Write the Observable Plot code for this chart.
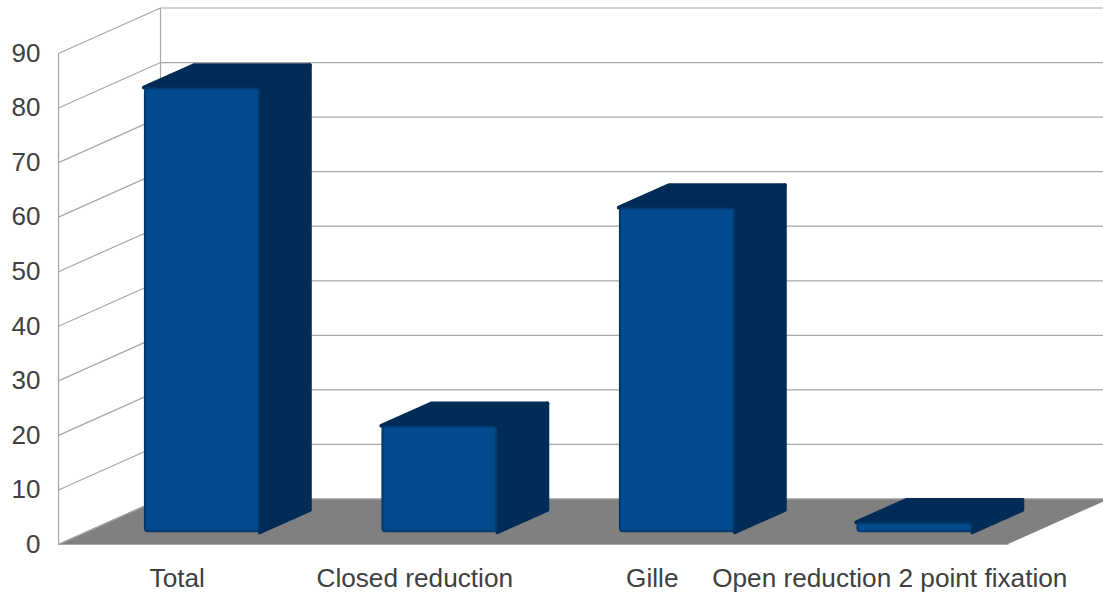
<!DOCTYPE html>
<html>
<head>
<meta charset="utf-8">
<script src="https://cdn.jsdelivr.net/npm/d3@7"></script>
<script src="https://cdn.jsdelivr.net/npm/@observablehq/plot@0.6"></script>
<style>
html,body{margin:0;padding:0;background:#fff;overflow:hidden}
svg{display:block}
</style>
</head>
<body>
<div id="chart"></div>
<script>
const categories = ["Total", "Closed reduction", "Gille", "Open reduction 2 point fixation"];
const values = [81.5, 19.5, 59.5, 1.8];
const yTicks = [0, 10, 20, 30, 40, 50, 60, 70, 80, 90];

// Oblique projection: one unit of depth moves a point this far in data units.
const depthX = 0.4295, depthY = 8.34;
const nearDepth = 0.26, farDepth = 0.75;
const barStart = 0.25, barWidth = 0.488;

const bars = categories.map((name, i) => {
  const x1 = i + barStart + nearDepth * depthX;
  const x2 = x1 + barWidth;
  const y1 = nearDepth * depthY;
  const y2 = y1 + values[i];
  const sx = (farDepth - nearDepth) * depthX;
  const sy = (farDepth - nearDepth) * depthY;
  return {name, x1, x2, y1, y2, sx, sy};
});
const topFaces = bars.flatMap(b => [
  {name: b.name, y: b.y2, x1: b.x1, x2: b.x2},
  {name: b.name, y: b.y2 + b.sy, x1: b.x1 + b.sx, x2: b.x2 + b.sx}
]);
const sideFaces = bars.flatMap(b => [
  {name: b.name, x: b.x2, y1: b.y1, y2: b.y2},
  {name: b.name, x: b.x2 + b.sx, y1: b.y1 + b.sy, y2: b.y2 + b.sy}
]);
const floor = [
  {y: 0, x1: 0, x2: 4},
  {y: depthY, x1: depthX, x2: 4 + depthX}
];
const gridColor = "#a6a6a6", sideColor = "#012c58", frontColor = "#004b8e", edgeColor = "#03396f";

const chart = Plot.plot({
  width: 1103, height: 593,
  marginLeft: 58, marginRight: 95, marginTop: 53, marginBottom: 49,
  style: {fontFamily: "'Liberation Sans', Arial, sans-serif", background: "#fff", color: "#404040"},
  x: {domain: [0, 4]},
  y: {domain: [0, 90]},
  marks: [
    Plot.areaX(floor, {x1: "x1", x2: "x2", y: "y", fill: "#808080"}),
    Plot.link(yTicks, {x1: 0, x2: depthX, y1: d => d, y2: d => d + depthY, stroke: gridColor, strokeWidth: 1.2}),
    Plot.link(yTicks, {x1: depthX, x2: 4 + depthX, y1: d => d + depthY, y2: d => d + depthY, stroke: gridColor, strokeWidth: 1.2}),
    Plot.link([0], {x1: depthX, x2: depthX, y1: depthY, y2: 90 + depthY, stroke: gridColor, strokeWidth: 1.2}),
    Plot.link([0], {x1: 0, x2: 0, y1: 0, y2: 90, stroke: gridColor, strokeWidth: 1.2}),
    Plot.link([0], {x1: 0, x2: 4, y1: 0, y2: 0, stroke: gridColor, strokeWidth: 1.2}),
    Plot.areaX(topFaces, {x1: "x1", x2: "x2", y: "y", z: "name", fill: sideColor, stroke: sideColor, strokeWidth: 4, strokeLinejoin: "round"}),
    Plot.areaY(sideFaces, {x: "x", y1: "y1", y2: "y2", z: "name", fill: sideColor, stroke: sideColor, strokeWidth: 4, strokeLinejoin: "round"}),
    Plot.rect(bars, {x1: "x1", x2: "x2", y1: "y1", y2: "y2", fill: edgeColor, rx: 4}),
    Plot.rect(bars, {x1: "x1", x2: "x2", y1: "y1", y2: "y2", fill: frontColor, inset: 2, rx: 2}),
    Plot.axisY({ticks: yTicks, tickSize: 0, tickPadding: 18, label: null, fontSize: 26, color: "#404040"}),
    Plot.axisX({ticks: categories.map((_, i) => i + 0.5), tickFormat: d => categories[d - 0.5], tickSize: 0, tickPadding: 24, label: null, fontSize: 26.2, color: "#404040"})
  ]
});
document.getElementById("chart").append(chart);
</script>
</body>
</html>
